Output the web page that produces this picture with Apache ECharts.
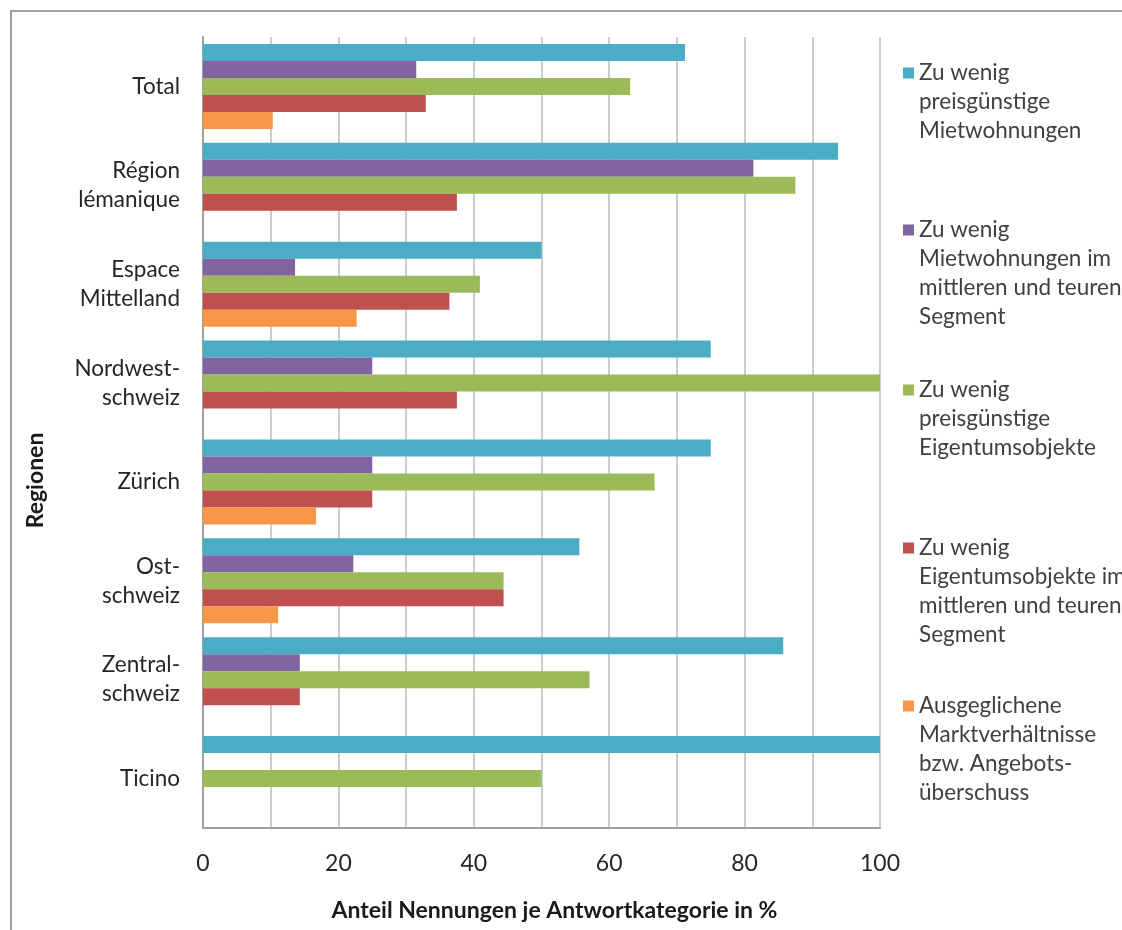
<!DOCTYPE html>
<html>
<head>
<meta charset="utf-8">
<script src="https://cdn.jsdelivr.net/npm/echarts@6/dist/echarts.min.js"></script>
<style>
  html, body { margin: 0; padding: 0; background: #fff; }
  #chart { width: 1122px; height: 930px; }
</style>
</head>
<body>
<div id="chart"></div>
<script>
const regions = ["Total", "Région\nlémanique", "Espace\nMittelland", "Nordwest-\nschweiz", "Zürich", "Ost-\nschweiz", "Zentral-\nschweiz", "Ticino"];
const seriesNames = [
  "Zu wenig\npreisgünstige\nMietwohnungen",
  "Zu wenig\nMietwohnungen im\nmittleren und teuren\nSegment",
  "Zu wenig\npreisgünstige\nEigentumsobjekte",
  "Zu wenig\nEigentumsobjekte im\nmittleren und teuren\nSegment",
  "Ausgeglichene\nMarktverhältnisse\nbzw. Angebots-\nüberschuss"
];
const mietGuenstig = [71.2, 93.8, 50.0, 75.0, 75.0, 55.6, 85.7, 100];
const mietTeuer = [31.5, 81.3, 13.6, 25.0, 25.0, 22.2, 14.3, null];
const eigentumGuenstig = [63.1, 87.5, 40.9, 100, 66.7, 44.4, 57.1, 50.0];
const eigentumTeuer = [32.9, 37.5, 36.4, 37.5, 25.0, 44.4, 14.3, null];
const ausgeglichen = [10.3, null, 22.7, null, 16.7, 11.1, null, null];
const xTicks = [0, 20, 40, 60, 80, 100];

const colors = ["#4bacc6", "#8064a2", "#9bbb59", "#c0504d", "#f79646"];
const values = [mietGuenstig, mietTeuer, eigentumGuenstig, eigentumTeuer, ausgeglichen];
const legendTops = [73, 230, 390, 548, 706]; // centre of first text line
const font = "Lato, 'Open Sans', sans-serif";
const lineH = 29;

const chart = echarts.init(document.getElementById("chart"));

// legend text is centred on the icon, so pad with empty lines above
// to keep the icon level with the first line
const legends = seriesNames.map(function (name, i) {
  const n = name.split("\n").length;
  return {
    data: [name],
    orient: "vertical",
    left: 903,
    top: legendTops[i] - (2 * n - 1) * lineH / 2,
    padding: 0,
    itemWidth: 11,
    itemHeight: 11,
    icon: "rect",
    selectedMode: false,
    formatter: function (nm) {
      return "\n".repeat(n - 1) + nm;
    },
    textStyle: {
      fontFamily: font,
      fontSize: 22.5,
      color: "#404040",
      lineHeight: lineH
    }
  };
});

const series = seriesNames.map(function (name, i) {
  return {
    name: name,
    type: "bar",
    data: values[i],
    barGap: "0%",
    barCategoryGap: "14%",
    itemStyle: { color: colors[i] },
    emphasis: { disabled: true }
  };
});

const option = {
  backgroundColor: "#fff",
  animation: false,
  color: colors,
  graphic: [
    {
      type: "rect",
      shape: { x: 11, y: 11, width: 1300, height: 1100 },
      style: { fill: "none", stroke: "#a0a0a0", lineWidth: 2 },
      z: -1
    }
  ],
  legend: legends,
  grid: { left: 203, right: 242, top: 37, bottom: 102 },
  xAxis: {
    type: "value",
    min: 0,
    max: 100,
    interval: 10,
    name: "Anteil Nennungen je Antwortkategorie in %",
    nameLocation: "middle",
    nameGap: 71,
    nameTextStyle: {
      fontFamily: font,
      fontWeight: "bold",
      fontSize: 23,
      color: "#1a1a1a",
      padding: [0, 0, 0, 26]
    },
    axisLine: { show: true, lineStyle: { color: "#a0a0a0", width: 2 } },
    axisTick: { show: false },
    splitLine: { show: true, lineStyle: { color: "#cccccc", width: 2 } },
    axisLabel: {
      margin: 24,
      fontFamily: font,
      fontSize: 23,
      color: "#262626",
      formatter: function (v) {
        return xTicks.indexOf(v) >= 0 ? String(v) : "";
      }
    }
  },
  yAxis: {
    type: "category",
    inverse: true,
    data: regions,
    name: "Regionen",
    nameLocation: "middle",
    nameGap: 156,
    nameTextStyle: {
      fontFamily: font,
      fontWeight: "bold",
      fontSize: 23,
      color: "#1a1a1a",
      padding: [0, 96, 0, 0]
    },
    axisLine: { show: true, lineStyle: { color: "#a0a0a0", width: 2 } },
    axisTick: { show: false },
    splitLine: { show: false },
    axisLabel: {
      margin: 23,
      fontFamily: font,
      fontSize: 22.5,
      lineHeight: 29,
      color: "#262626"
    }
  },
  series: series
};

chart.setOption(option);
</script>
</body>
</html>
